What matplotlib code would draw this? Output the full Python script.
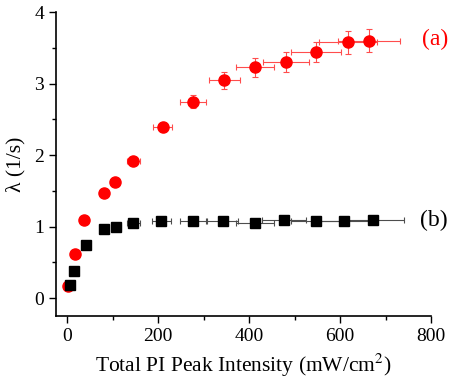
import matplotlib
matplotlib.use("Agg")
import matplotlib.pyplot as plt
from matplotlib.ticker import MultipleLocator

plt.rcParams['font.family'] = ['Liberation Serif', 'DejaVu Serif']
plt.rcParams['mathtext.fontset'] = 'stix'

# Series (a): red circles
a_x = [2, 17, 37, 81, 105, 145, 210, 277, 345, 413, 481, 547, 618, 664]
a_y = [0.17, 0.62, 1.09, 1.47, 1.62, 1.92, 2.39, 2.75, 3.05, 3.23, 3.31, 3.45, 3.58, 3.60]
a_xerr = [0.5, 2, 4, 8, 10, 14, 21, 28, 34, 42, 50, 56, 64, 68]
a_yerr = [0.02, 0.03, 0.03, 0.04, 0.04, 0.05, 0.07, 0.09, 0.12, 0.13, 0.14, 0.14, 0.16, 0.16]

# Series (b): black squares
b_x = [7, 15, 42, 80, 108, 145, 207, 277, 342, 413, 477, 547, 609, 672]
b_y = [0.18, 0.38, 0.74, 0.96, 0.99, 1.05, 1.08, 1.08, 1.08, 1.05, 1.09, 1.08, 1.08, 1.09]
b_xerr = [0.7, 1.5, 4, 8, 10, 14, 21, 28, 34, 42, 48, 56, 62, 69]
b_yerr = [0.01, 0.01, 0.02, 0.02, 0.02, 0.03, 0.03, 0.03, 0.03, 0.03, 0.03, 0.03, 0.03, 0.03]

xticks = [0, 200, 400, 600, 800]
yticks = [0, 1, 2, 3, 4]

fig = plt.figure(figsize=(4.5, 3.82), dpi=100)
ax = fig.add_axes([0.124, 0.173, 0.834, 0.795])

ax.errorbar(a_x, a_y, xerr=a_xerr, yerr=a_yerr, fmt='o', color='red', ms=8,
            ecolor=(1, 0.3, 0.3), elinewidth=0.8, capsize=2.5, capthick=0.8, zorder=3)
ax.errorbar(b_x, b_y, xerr=b_xerr, yerr=b_yerr, fmt='s', color='black', ms=7.5,
            ecolor=(0.3, 0.3, 0.3), elinewidth=0.8, capsize=2.5, capthick=0.8, zorder=3)

ax.set_xlim(-25, 800)
ax.set_ylim(-0.25, 4)
ax.set_xticks(xticks)
ax.set_yticks(yticks)
ax.xaxis.set_minor_locator(MultipleLocator(100))
ax.yaxis.set_minor_locator(MultipleLocator(0.5))
ax.tick_params(which='major', direction='out', length=5, width=1, labelsize=14)
ax.tick_params(which='minor', direction='out', length=3, width=1)

for s in ['top', 'right']:
    ax.spines[s].set_visible(False)
for s in ['left', 'bottom']:
    ax.spines[s].set_linewidth(1.2)
ax.spines['left'].set_bounds(-0.25, 4)
ax.spines['bottom'].set_bounds(-25, 800)

ax.set_xlabel('Total PI Peak Intensity (mW/cm$^2$)', fontsize=15.5, labelpad=5)
ax.set_ylabel('λ (1/s)', fontsize=15.5, labelpad=6)

ax.text(1.045, 3.62, '(a)', color='red', fontsize=17, transform=ax.get_yaxis_transform(),
        ha='right', va='center', clip_on=False)
ax.text(1.045, 1.09, '(b)', color='black', fontsize=17, transform=ax.get_yaxis_transform(),
        ha='right', va='center', clip_on=False)

fig.savefig('out.png', dpi=100)
